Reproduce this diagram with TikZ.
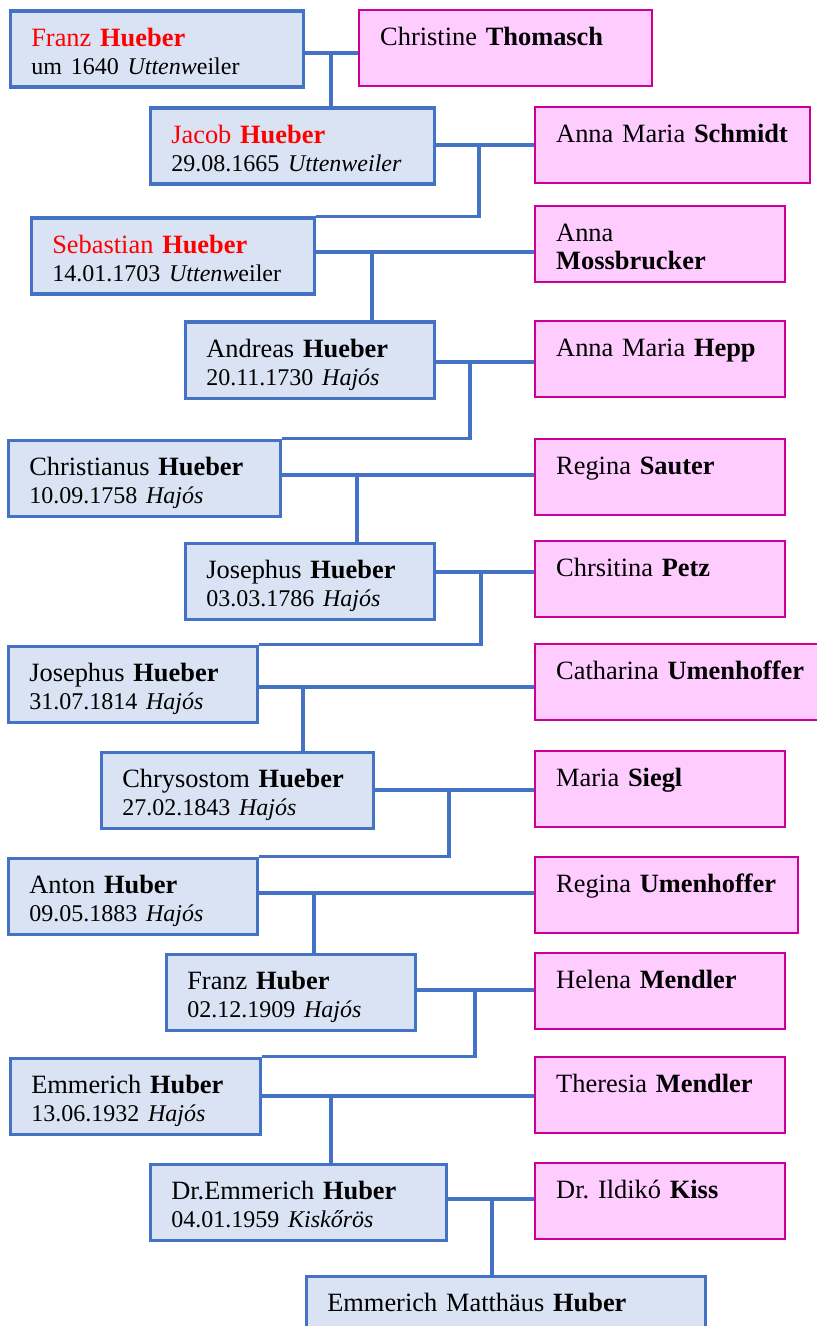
\documentclass[tikz,border=0pt]{standalone}
\usepackage{fontspec}
\setmainfont{Liberation Serif}
\definecolor{manfill}{HTML}{DAE3F3}
\definecolor{manline}{HTML}{4472C4}
\definecolor{wifefill}{HTML}{FFCCFF}
\definecolor{wifeline}{HTML}{CC0099}
\definecolor{ancred}{HTML}{FF0000}
\newcommand{\datum}[1]{{\fontsize{12pt}{14.2pt}\selectfont #1}}
\frenchspacing

\begin{document}
\begin{tikzpicture}[x=0.5pt,y=-0.5pt,
    box/.style={anchor=north west,align=left,inner xsep=10.5pt,inner ysep=0pt,
      text height=17.5pt,text depth=20.5pt,
      font=\fontsize{13.2pt}{14.2pt}\selectfont},
    man/.style={box,draw=manline,fill=manfill,line width=1.8pt},
    wife/.style={box,draw=wifeline,fill=wifefill,line width=1.2pt},
    link/.style={draw=manline,line width=1.7pt}]
  \useasboundingbox (0,0) rectangle (817,1326);
  \clip (0,0) rectangle (817,1326);

  % line of descent
  \node[man,text width=125.5pt] (franzA) at (8.5,9.5)
    {\textcolor{ancred}{Franz \textbf{Hueber}}\\\datum{um 1640 \textit{Uttenw}eiler}};
  \node[man,text width=121pt] (jacob) at (148.5,106.5)
    {\textcolor{ancred}{Jacob \textbf{Hueber}}\\\datum{29.08.1665 \textit{Uttenweiler}}};
  \node[man,text width=120.5pt] (sebastian) at (29.5,216.5)
    {\textcolor{ancred}{Sebastian \textbf{Hueber}}\\\datum{14.01.1703 \textit{Uttenw}eiler}};
  \node[man,text width=103.5pt] (andreas) at (183.5,320.5)
    {Andreas \textbf{Hueber}\\\datum{20.11.1730 \textit{Hajós}}};
  \node[man,text width=115pt] (christianus) at (6.5,438.5)
    {Christianus \textbf{Hueber}\\\datum{10.09.1758 \textit{Hajós}}};
  \node[man,text width=103.5pt] (josephusA) at (183.5,541.5)
    {Josephus \textbf{Hueber}\\\datum{03.03.1786 \textit{Hajós}}};
  \node[man,text width=103.5pt] (josephusB) at (6.5,644.5)
    {Josephus \textbf{Hueber}\\\datum{31.07.1814 \textit{Hajós}}};
  \node[man,text width=115pt] (chrysostom) at (99.5,750.5)
    {Chrysostom \textbf{Hueber}\\\datum{27.02.1843 \textit{Hajós}}};
  \node[man,text width=103.5pt] (anton) at (6.5,856.5)
    {Anton \textbf{Huber}\\\datum{09.05.1883 \textit{Hajós}}};
  \node[man,text width=103.5pt] (franzB) at (164.5,952.5)
    {Franz \textbf{Huber}\\\datum{02.12.1909 \textit{Hajós}}};
  \node[man,text width=104pt] (emmerichA) at (8.5,1056.5)
    {Emmerich \textbf{Huber}\\\datum{13.06.1932 \textit{Hajós}}};
  \node[man,text width=127pt] (emmerichB) at (148.5,1162.5)
    {Dr.Emmerich \textbf{Huber}\\\datum{04.01.1959 \textit{Kiskőrös}}};
  \node[man,text width=178.5pt] (matthaeus) at (304.5,1274.5)
    {Emmerich Matthäus \textbf{Huber}};

  % spouses
  \node[wife,text width=125.5pt] (thomasch) at (358,9) {Christine \textbf{Thomasch}};
  \node[wife,text width=116.5pt] (schmidt) at (534,106) {Anna Maria \textbf{Schmidt}};
  \node[wife,text width=104pt] (mossbrucker) at (534,205) {Anna\\\textbf{Mossbrucker}};
  \node[wife,text width=104pt] (hepp) at (534,320) {Anna Maria \textbf{Hepp}};
  \node[wife,text width=104pt] (sauter) at (534,438) {Regina \textbf{Sauter}};
  \node[wife,text width=104pt] (petz) at (534,540) {Chrsitina \textbf{Petz}};
  \node[wife,text width=125pt] (umenhofferA) at (534,643) {Catharina \textbf{Umenhoffer}};
  \node[wife,text width=104pt] (siegl) at (534,750) {Maria \textbf{Siegl}};
  \node[wife,text width=110.5pt] (umenhofferB) at (534,856) {Regina \textbf{Umenhoffer}};
  \node[wife,text width=104pt] (mendlerA) at (534,952) {Helena \textbf{Mendler}};
  \node[wife,text width=104pt] (mendlerB) at (534,1056) {Theresia \textbf{Mendler}};
  \node[wife,text width=104pt] (kiss) at (534,1162) {Dr. Ildikó \textbf{Kiss}};

  % marriages and children
  \coordinate (j1) at (331,53);
  \draw[link] (franzA.east |- j1) -- (thomasch.west |- j1);
  \draw[link] (j1) -- (j1 |- jacob.north);
  \coordinate (j2) at (479,145);
  \draw[link] (jacob.east |- j2) -- (schmidt.west |- j2);
  \draw[link] (j2) |- (sebastian.north east);
  \coordinate (j3) at (372,252);
  \draw[link] (sebastian.east |- j3) -- (mossbrucker.west |- j3);
  \draw[link] (j3) -- (j3 |- andreas.north);
  \coordinate (j4) at (470,362);
  \draw[link] (andreas.east |- j4) -- (hepp.west |- j4);
  \draw[link] (j4) |- (christianus.north east);
  \coordinate (j5) at (357,475);
  \draw[link] (christianus.east |- j5) -- (sauter.west |- j5);
  \draw[link] (j5) -- (j5 |- josephusA.north);
  \coordinate (j6) at (481,572);
  \draw[link] (josephusA.east |- j6) -- (petz.west |- j6);
  \draw[link] (j6) |- (josephusB.north east);
  \coordinate (j7) at (303,687);
  \draw[link] (josephusB.east |- j7) -- (umenhofferA.west |- j7);
  \draw[link] (j7) -- (j7 |- chrysostom.north);
  \coordinate (j8) at (449,790);
  \draw[link] (chrysostom.east |- j8) -- (siegl.west |- j8);
  \draw[link] (j8) |- (anton.north east);
  \coordinate (j9) at (314,893);
  \draw[link] (anton.east |- j9) -- (umenhofferB.west |- j9);
  \draw[link] (j9) -- (j9 |- franzB.north);
  \coordinate (j10) at (475,990);
  \draw[link] (franzB.east |- j10) -- (mendlerA.west |- j10);
  \draw[link] (j10) |- (emmerichA.north east);
  \coordinate (j11) at (331,1096);
  \draw[link] (emmerichA.east |- j11) -- (mendlerB.west |- j11);
  \draw[link] (j11) -- (j11 |- emmerichB.north);
  \coordinate (j12) at (492,1199);
  \draw[link] (emmerichB.east |- j12) -- (kiss.west |- j12);
  \draw[link] (j12) -- (j12 |- matthaeus.north);
\end{tikzpicture}
\end{document}
